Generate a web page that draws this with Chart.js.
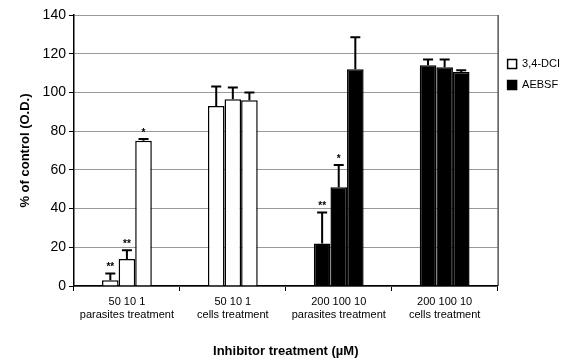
<!DOCTYPE html>
<html>
<head>
<meta charset="utf-8">
<script src="https://cdn.jsdelivr.net/npm/chart.js@4/dist/chart.umd.min.js"></script>
<style>
  html, body { margin: 0; padding: 0; background: #fff; }
  #wrap { width: 576px; height: 361px; }
</style>
</head>
<body>
<div id="wrap"><canvas id="chart"></canvas></div>
<script>
const categories = [
    ['50 10 1', 'parasites treatment'],
    ['50 10 1', 'cells treatment'],
    ['200 100 10', 'parasites treatment'],
    ['200 100 10', 'cells treatment']
];
// three bars per group (high, mid, low dose)
const doseHigh = [3, 93, 22, 114];
const doseMid = [14, 96.5, 51, 113];
const doseLow = [75, 96, 112, 110.5];
const errHigh = [3.5, 10, 16, 3];
const errMid = [4.5, 6, 11.5, 4];
const errLow = [1, 4, 16.5, 1];
const starsHigh = ['**', '', '**', ''];
const starsMid = ['**', '', '*', ''];
const starsLow = ['*', '', '', ''];
const seriesNames = ['3,4-DCI', 'AEBSF'];
const groupColors = ['#ffffff', '#ffffff', '#000000', '#000000'];
const yTicks = [0, 20, 40, 60, 80, 100, 120, 140];

const errors = [errHigh, errMid, errLow];
const stars = [starsHigh, starsMid, starsLow];

const errorBars = {
    id: 'errorBars',
    afterDatasetsDraw(chart) {
        const ctx = chart.ctx;
        const y = chart.scales.y;
        ctx.save();
        chart.data.datasets.forEach((ds, di) => {
            const meta = chart.getDatasetMeta(di);
            meta.data.forEach((bar, i) => {
                const top = ds.data[i] + errors[di][i];
                const yTop = y.getPixelForValue(top);
                const yBar = y.getPixelForValue(ds.data[i]);
                ctx.strokeStyle = '#000';
                ctx.lineWidth = 2;
                ctx.beginPath();
                ctx.moveTo(bar.x, yBar);
                ctx.lineTo(bar.x, yTop);
                ctx.moveTo(bar.x - 5, yTop);
                ctx.lineTo(bar.x + 5, yTop);
                ctx.stroke();
                if (stars[di][i]) {
                    ctx.fillStyle = '#000';
                    ctx.font = 'bold 10px "Liberation Sans", Arial, sans-serif';
                    ctx.textAlign = 'center';
                    ctx.textBaseline = 'bottom';
                    ctx.fillText(stars[di][i], bar.x, yTop - 1);
                }
            });
        });
        // right frame line
        const a = chart.chartArea;
        ctx.strokeStyle = '#000';
        ctx.lineWidth = 1;
        ctx.beginPath();
        ctx.moveTo(a.right + 0.5, a.top);
        ctx.lineTo(a.right + 0.5, a.bottom);
        ctx.stroke();
        ctx.restore();
    }
};

const makeSet = (data) => ({
    data: data,
    backgroundColor: groupColors,
    borderColor: '#000',
    borderWidth: 1.5,
    barPercentage: 1.0,
    categoryPercentage: 0.47
});

const ctx = document.getElementById('chart').getContext('2d');
const chart = new Chart(ctx, {
    type: 'bar',
    data: {
        labels: categories,
        datasets: [makeSet(doseHigh), makeSet(doseMid), makeSet(doseLow)]
    },
    options: {
        responsive: true,
        maintainAspectRatio: false,
        animation: false,
        layout: { padding: { top: 15, right: 6, left: 14, bottom: 0 } },
        plugins: {
            tooltip: { enabled: false },
            legend: {
                position: 'right',
                align: 'start',
                title: { display: true, text: ' ', padding: { top: 19 } },
                labels: {
                    color: '#000',
                    font: { family: '"Liberation Sans", Arial, sans-serif', size: 11 },
                    boxWidth: 9,
                    boxHeight: 9,
                    padding: 10,
                    generateLabels: () => seriesNames.map((name, k) => ({
                        text: name,
                        fontColor: '#000',
                        fillStyle: k === 0 ? '#fff' : '#000',
                        strokeStyle: '#000',
                        lineWidth: 1.5,
                        hidden: false,
                        datasetIndex: k
                    }))
                }
            }
        },
        scales: {
            x: {
                grid: { display: true, drawOnChartArea: false, offset: true, color: '#000', tickLength: 5 },
                border: { color: '#000', width: 1.5 },
                ticks: {
                    color: '#000',
                    font: { family: '"Liberation Sans", Arial, sans-serif', size: 11 },
                    maxRotation: 0,
                    padding: 4
                },
                title: {
                    display: true,
                    text: 'Inhibitor treatment (µM)',
                    color: '#000',
                    font: { family: '"Liberation Sans", Arial, sans-serif', size: 13, weight: 'bold' },
                    padding: { top: 18, bottom: 2 }
                }
            },
            y: {
                min: 0,
                max: 140,
                afterBuildTicks: (axis) => { axis.ticks = yTicks.map(v => ({ value: v })); },
                grid: { color: '#999', tickLength: 5, drawTicks: true, tickColor: '#000' },
                border: { color: '#000', width: 1.5, dash: [] },
                ticks: {
                    color: '#000',
                    font: { family: '"Liberation Sans", Arial, sans-serif', size: 14 },
                    padding: 3
                },
                title: {
                    display: true,
                    text: '% of control (O.D.)',
                    color: '#000',
                    font: { family: '"Liberation Sans", Arial, sans-serif', size: 13, weight: 'bold' },
                    padding: { bottom: 6 }
                }
            }
        }
    },
    plugins: [errorBars]
});
</script>
</body>
</html>
